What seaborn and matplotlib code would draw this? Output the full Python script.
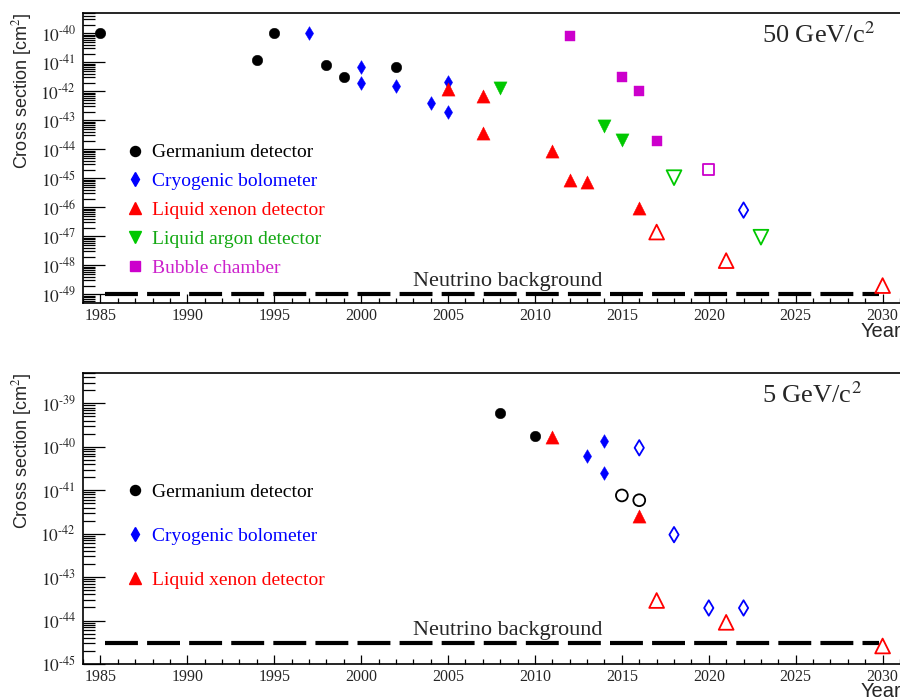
import numpy as np
import pandas as pd
import matplotlib
matplotlib.use("Agg")
import matplotlib.pyplot as plt
import seaborn as sns
from matplotlib.lines import Line2D
from matplotlib.ticker import FixedLocator, LogLocator, MultipleLocator, FuncFormatter, NullFormatter

sns.set_theme(style="white")
plt.rcParams["font.family"] = ["Liberation Serif", "DejaVu Serif"]
plt.rcParams["mathtext.fontset"] = "stix"

# ---------------- 50 GeV/c^2 WIMP mass ----------------
ge50_year = [1985, 1994, 1995, 1998, 1999, 2002]
ge50_xs = [1e-40, 1.2e-41, 1e-40, 8e-42, 3e-42, 7e-42]
bolo50_year = [1997, 2000, 2000, 2002, 2004, 2005, 2005]
bolo50_xs = [1e-40, 7e-42, 2e-42, 1.5e-42, 4e-43, 2.1e-42, 2e-43]
bolo50_proj_year = [2022]
bolo50_proj_xs = [8e-47]
xe50_year = [2005, 2007, 2007, 2011, 2012, 2013, 2016]
xe50_xs = [1.2e-42, 7e-43, 3.6e-44, 8.5e-45, 9e-46, 7.2e-46, 9.3e-47]
xe50_proj_year = [2017, 2021, 2030]
xe50_proj_xs = [1.4e-47, 1.45e-48, 2e-49]
ar50_year = [2008, 2014, 2015]
ar50_xs = [1.3e-42, 6.5e-44, 2.1e-44]
ar50_proj_year = [2018, 2023]
ar50_proj_xs = [1.05e-45, 9.3e-48]
bc50_year = [2012, 2015, 2016, 2017]
bc50_xs = [8.3e-41, 3e-42, 1e-42, 2e-44]
bc50_proj_year = [2020]
bc50_proj_xs = [2e-45]
nu50_year = [1985.25, 2029.8]
nu50_xs = [1e-49, 1e-49]

# ---------------- 5 GeV/c^2 WIMP mass ----------------
ge5_year = [2008, 2010]
ge5_xs = [5.9e-40, 1.77e-40]
ge5_proj_year = [2015, 2016]
ge5_proj_xs = [7.6e-42, 5.9e-42]
bolo5_year = [2013, 2014, 2014]
bolo5_xs = [6e-41, 1.37e-40, 2.5e-41]
bolo5_proj_year = [2016, 2018, 2020, 2022]
bolo5_proj_xs = [9.5e-41, 9.5e-43, 1.95e-44, 1.95e-44]
xe5_year = [2011, 2016]
xe5_xs = [1.65e-40, 2.5e-42]
xe5_proj_year = [2017, 2021, 2030]
xe5_proj_xs = [2.9e-44, 9.1e-45, 2.6e-45]
nu5_year = [1985.25, 2029.8]
nu5_xs = [3e-45, 3e-45]

year_ticks = [1985, 1990, 1995, 2000, 2005, 2010, 2015, 2020, 2025, 2030]

BLACK = "#000000"
BLUE = "#0000ff"
RED = "#ff0000"
GREEN = "#00c800"
MAGENTA = "#cc00cc"

# marker styles: (marker, size in points, colour)
STYLE = {
    "ge": ("o", 7.6, BLACK),
    "bolo": ("d", 7.0, BLUE),
    "xe": ("^", 9.5, RED),
    "ar": ("v", 9.5, GREEN),
    "bc": ("s", 7.0, MAGENTA),
}

LEGEND_TEXT = {
    "ge": ("Germanium detector", BLACK),
    "bolo": ("Cryogenic bolometer", BLUE),
    "xe": ("Liquid xenon detector", RED),
    "ar": ("Liquid argon detector", "#13a813"),
    "bc": ("Bubble chamber", "#cc22cc"),
}


def draw_series(ax, key, years, xs, open_marker=False):
    marker, ms, color = STYLE[key]
    df = pd.DataFrame({"year": years, "xs": xs})
    if open_marker:
        size = (ms * 1.12) ** 2
        sns.scatterplot(data=df, x="year", y="xs", marker=marker, s=size,
                        facecolor="none", edgecolor=color, linewidth=1.3,
                        ax=ax, zorder=4, legend=False)
    else:
        sns.scatterplot(data=df, x="year", y="xs", marker=marker, s=ms ** 2,
                        color=color, edgecolor=color, linewidth=0.3,
                        ax=ax, zorder=4, legend=False)


def draw_neutrino(ax, years, xs, text_y):
    df = pd.DataFrame({"year": years, "xs": xs})
    sns.lineplot(data=df, x="year", y="xs", color="black", linewidth=3.0,
                 ax=ax, zorder=3, dashes=False)
    ax.lines[-1].set_dashes((7.9, 2.2))
    ax.lines[-1].set_dash_capstyle("butt")
    ax.text(0.404, text_y, "Neutrino background", transform=ax.transAxes,
            fontsize=16, family="Liberation Serif", va="baseline", ha="left")


def decade_label(v, pos):
    exp = int(round(np.log10(v)))
    return r"$10^{\mathrm{" + "\u2010" + str(abs(exp)) + "}}$"


def style_axis(ax, ymin, ymax, decades):
    ax.set_yscale("log")
    ax.set_xlim(1984, 2031)
    ax.set_ylim(ymin, ymax)
    ax.set_xlabel("")
    ax.set_ylabel("")
    ax.xaxis.set_major_locator(FixedLocator(year_ticks))
    ax.xaxis.set_minor_locator(MultipleLocator(1))
    ax.yaxis.set_major_locator(FixedLocator([10.0 ** d for d in decades]))
    ax.yaxis.set_minor_locator(LogLocator(base=10, subs=np.arange(2, 10), numticks=400))
    ax.yaxis.set_minor_formatter(NullFormatter())
    ax.yaxis.set_major_formatter(FuncFormatter(decade_label))
    ax.tick_params(axis="x", which="major", direction="in", length=6.5, width=0.9,
                   labelsize=11.5, pad=3.5, bottom=True, top=False, color="black")
    ax.tick_params(axis="x", which="minor", direction="in", length=3.6, width=0.9,
                   bottom=True, top=False, color="black")
    ax.tick_params(axis="y", which="major", direction="in", length=16, width=0.9,
                   labelsize=12.5, pad=5, left=True, right=False, color="black")
    ax.tick_params(axis="y", which="minor", direction="in", length=8.6, width=0.9,
                   left=True, right=False, color="black")
    for lab in ax.get_xticklabels():
        lab.set_family("Liberation Serif")
    for side in ["left", "bottom", "top"]:
        ax.spines[side].set_visible(True)
        ax.spines[side].set_color("black")
        ax.spines[side].set_linewidth(1.2)
    ax.spines["right"].set_visible(False)
    ax.grid(False)


def add_legend(ax, keys, anchor, spacing):
    handles, labels, colors = [], [], []
    for k in keys:
        marker, ms, color = STYLE[k]
        handles.append(Line2D([], [], linestyle="none", marker=marker, markersize=ms * 0.95,
                              markerfacecolor=color, markeredgecolor=color))
        labels.append(LEGEND_TEXT[k][0])
        colors.append(LEGEND_TEXT[k][1])
    leg = ax.legend(handles, labels, loc="upper left", bbox_to_anchor=anchor,
                    frameon=False, borderpad=0, borderaxespad=0, handlelength=1.0,
                    handletextpad=0.4, labelspacing=spacing,
                    prop={"family": "Liberation Serif", "size": 14})
    for txt, c in zip(leg.get_texts(), colors):
        txt.set_color(c)


fig = plt.figure(figsize=(9.0, 6.97), dpi=100)
ax1 = fig.add_axes([83 / 900, 1 - 303 / 697, 817 / 900, 290 / 697])
ax2 = fig.add_axes([83 / 900, 1 - 664 / 697, 817 / 900, 291 / 697])

# top panel
draw_neutrino(ax1, nu50_year, nu50_xs, 0.06)
draw_series(ax1, "ge", ge50_year, ge50_xs)
draw_series(ax1, "bolo", bolo50_year, bolo50_xs)
draw_series(ax1, "bolo", bolo50_proj_year, bolo50_proj_xs, open_marker=True)
draw_series(ax1, "xe", xe50_year, xe50_xs)
draw_series(ax1, "xe", xe50_proj_year, xe50_proj_xs, open_marker=True)
draw_series(ax1, "ar", ar50_year, ar50_xs)
draw_series(ax1, "ar", ar50_proj_year, ar50_proj_xs, open_marker=True)
draw_series(ax1, "bc", bc50_year, bc50_xs)
draw_series(ax1, "bc", bc50_proj_year, bc50_proj_xs, open_marker=True)
style_axis(ax1, 10 ** -49.3, 10 ** -39.3, range(-49, -39))
add_legend(ax1, ["ge", "bolo", "xe", "ar", "bc"], (0.0514, 0.549), 0.58)
ax1.text(0.831, 0.924, r"50 GeV/c$^{2}$", transform=ax1.transAxes, fontsize=19,
         family="Liberation Serif", va="center", ha="left")

# bottom panel
draw_neutrino(ax2, nu5_year, nu5_xs, 0.0997)
draw_series(ax2, "ge", ge5_year, ge5_xs)
draw_series(ax2, "ge", ge5_proj_year, ge5_proj_xs, open_marker=True)
draw_series(ax2, "bolo", bolo5_year, bolo5_xs)
draw_series(ax2, "bolo", bolo5_proj_year, bolo5_proj_xs, open_marker=True)
draw_series(ax2, "xe", xe5_year, xe5_xs)
draw_series(ax2, "xe", xe5_proj_year, xe5_proj_xs, open_marker=True)
style_axis(ax2, 1e-45, 10 ** -38.3, range(-45, -38))
add_legend(ax2, ["ge", "bolo", "xe"], (0.0514, 0.622), 1.36)
ax2.text(0.831, 0.924, r"5 GeV/c$^{2}$", transform=ax2.transAxes, fontsize=19,
         family="Liberation Serif", va="center", ha="left")

# axis titles
for top_px in (13, 373):
    fig.text(22 / 900, 1 - top_px / 697, r"Cross section [cm$^{2}$]", rotation=90,
             ha="center", va="top", fontsize=13, family="Liberation Sans")
for base_px in (337, 697):
    fig.text(861 / 900, 1 - base_px / 697, "Year", ha="left", va="baseline",
             fontsize=14.5, family="Liberation Sans")

fig.savefig("out.png", dpi=100, facecolor="white")
